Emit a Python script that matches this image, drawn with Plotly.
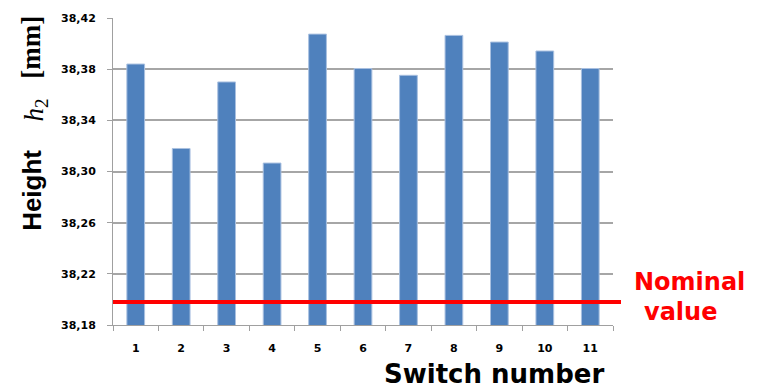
import plotly.graph_objects as go

switches = ["1", "2", "3", "4", "5", "6", "7", "8", "9", "10", "11"]
heights = [38.384, 38.318, 38.370, 38.3066, 38.4074, 38.3805, 38.3752, 38.4064, 38.4012, 38.3942, 38.3805]
nominal_value = 38.198
y_ticks = [38.18, 38.22, 38.26, 38.30, 38.34, 38.38, 38.42]

W, H = 765, 388
L, R, T, B = 113, 152, 16, 63
pw, ph = W - L - R, H - T - B


def px(x):
    return (x - L) / pw


def py(y):
    return (H - B - y) / ph


fig = go.Figure()
fig.add_trace(go.Bar(
    x=switches, y=heights,
    marker=dict(color="#4f81bd", line=dict(color="#a9c0e0", width=1)),
))

fig.add_shape(type="line", xref="paper", yref="y", x0=0, x1=px(621),
              y0=nominal_value, y1=nominal_value,
              line=dict(color="#ff0000", width=4))

annos = [
    dict(x=px(32), y=py(190), textangle=-90, text="<b>Height</b>",
         font=dict(family="Liberation Sans", size=26, color="black")),
    dict(x=px(36), y=py(109), textangle=-90, text="<i>h</i><sub>2</sub>",
         font=dict(family="Liberation Serif", size=27, color="black")),
    dict(x=px(31), y=py(46), textangle=-90, text="<b>[mm]</b>",
         font=dict(family="Liberation Serif", size=27, color="black")),
    dict(x=px(494), y=py(374), text="<b>Switch number</b>",
         font=dict(family="DejaVu Sans", size=26, color="black")),
    dict(x=px(689), y=py(282), text="<b>Nominal</b>",
         font=dict(family="DejaVu Sans", size=24, color="#ff0000")),
    dict(x=px(680), y=py(312), text="<b>value</b>",
         font=dict(family="DejaVu Sans", size=24, color="#ff0000")),
]
for a in annos:
    fig.add_annotation(xref="paper", yref="paper", showarrow=False,
                       xanchor="center", yanchor="middle", **a)

fig.update_layout(
    width=W, height=H,
    margin=dict(l=L, r=R, t=T, b=B, pad=0),
    paper_bgcolor="white", plot_bgcolor="white",
    bargap=0.61,
    separators=",.",
    showlegend=False,
    xaxis=dict(
        type="category", showgrid=False, showline=True, linecolor="#a0a0a0", linewidth=1,
        ticks="outside", tickson="boundaries", ticklen=5, tickcolor="#a0a0a0",
        ticklabelstandoff=13,
        tickfont=dict(family="DejaVu Sans", size=11, color="black", weight="bold"),
    ),
    yaxis=dict(
        range=[38.18, 38.42], tickvals=y_ticks, tickformat=".2f",
        showgrid=True, gridcolor="#a6a6a6", gridwidth=1.5,
        showline=True, linecolor="#a0a0a0", linewidth=1,
        ticks="outside", ticklen=5, tickcolor="#a0a0a0",
        ticklabelstandoff=9,
        tickfont=dict(family="DejaVu Sans", size=11, color="black", weight="bold"),
        zeroline=False,
    ),
)

fig.write_html("out.html", config={"displayModeBar": False},
               post_script="document.body.style.margin='0';")
